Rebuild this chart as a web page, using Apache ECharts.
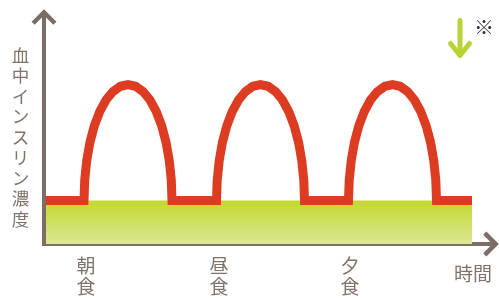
<!DOCTYPE html>
<html><head><meta charset="utf-8">
<script src="https://cdn.jsdelivr.net/npm/echarts@6/dist/echarts.min.js"></script>
<style>html,body{margin:0;padding:0;background:#fff}#c{width:499px;height:298px}</style>
</head><body><div id="c"></div>
<script>
// ---- data ----
const mealNames = ['朝食', '昼食', '夕食'];
const mealTimes = [42, 175, 306];
const timeName = '時間';
const yName = '血中インスリン濃度';
const baseLevel = 43.5;
const curveStart = 2;
const curveEnd = 428;
const arch1X = [40.0, 40.7, 42.7, 45.9, 50.3, 55.7, 62.0, 69.0, 76.4, 84.0, 91.6, 99.0, 106.0, 112.3, 117.7, 122.1, 125.3, 127.3, 128.0];
const arch2X = [172.5, 173.2, 175.2, 178.4, 182.8, 188.2, 194.5, 201.5, 208.9, 216.5, 224.1, 231.5, 238.5, 244.8, 250.2, 254.6, 257.8, 259.8, 260.5];
const arch3X = [304.5, 305.2, 307.2, 310.4, 314.8, 320.2, 326.5, 333.5, 340.9, 348.5, 356.1, 363.5, 370.5, 376.8, 382.2, 386.6, 389.8, 391.8, 392.5];
const archY = [43.5, 63.6, 83.2, 101.5, 118.1, 132.4, 144.0, 152.5, 157.7, 159.5, 157.7, 152.5, 144.0, 132.4, 118.1, 101.5, 83.2, 63.6, 43.5];

// ---- build ----
const pts = xs => xs.map((x, i) => [x, archY[i]]);
const insulin = [[curveStart, baseLevel]].concat(pts(arch1X), pts(arch2X), pts(arch3X), [[curveEnd, baseLevel]]);
const baseline = [[curveStart, baseLevel], [curveEnd, baseLevel]];

const axisColor = '#7b6e66';
const textColor = '#7f736b';
const font = '"Noto Sans CJK JP", "Noto Sans CJK SC", sans-serif';
const chevron = 'path://M11,0 L22,11 L19.17,13.83 L11,5.66 L2.83,13.83 L0,11 Z';

const chart = echarts.init(document.getElementById('c'), null, {renderer: 'canvas'});
chart.setOption({
  animation: false,
  grid: {left: 44, right: 8, top: 17, bottom: 54, containLabel: false, outerBoundsMode: 'none'},
  xAxis: {
    type: 'value', min: 0, max: 447,
    name: timeName, nameLocation: 'end', nameGap: -37,
    nameTextStyle: {color: textColor, fontSize: 19, lineHeight: 21, fontFamily: font, verticalAlign: 'top', align: 'left', padding: [19, 0, 0, 0]},
    axisLine: {show: true, symbol: ['none', chevron], symbolSize: [25, 15.7],
      lineStyle: {color: axisColor, width: 4, cap: 'square'}},
    axisTick: {show: false}, splitLine: {show: false},
    axisLabel: {
      customValues: mealTimes,
      formatter: v => { const i = mealTimes.indexOf(v); return i >= 0 ? mealNames[i].split('').join('\n') : ''; },
      color: textColor, fontSize: 19, lineHeight: 21, margin: 11, fontFamily: font
    }
  },
  yAxis: {
    type: 'value', min: 0, max: 227,
    name: '{sp|\u3000}\n' + yName.split('').join('\n'), nameLocation: 'middle', nameRotate: 0, nameGap: 23.5,
    nameTextStyle: {color: textColor, fontSize: 17.5, lineHeight: 20.5, fontFamily: font, align: 'center',
      rich: {sp: {fontSize: 1, lineHeight: 13}}},
    axisLine: {show: true, symbol: ['none', chevron], symbolSize: [25, 15.7],
      lineStyle: {color: axisColor, width: 4, cap: 'square'}},
    axisTick: {show: false}, splitLine: {show: false}, axisLabel: {show: false}
  },
  series: [
    {
      type: 'line', data: baseline, symbol: 'none', silent: true, z: 2,
      lineStyle: {width: 0, opacity: 0},
      areaStyle: {opacity: 1, color: new echarts.graphic.LinearGradient(0, 0, 0, 1, [
        {offset: 0, color: '#c3d82f'}, {offset: 1, color: '#dbe893'}])}
    },
    {
      type: 'line', data: insulin, symbol: 'none', silent: true, z: 3,
      lineStyle: {color: '#dc3c22', width: 9, join: 'miter', cap: 'butt'}
    }
  ],
  graphic: [
    {type: 'line', shape: {x1: 460, y1: 20.5, x2: 460, y2: 55}, style: {stroke: '#b8d335', lineWidth: 5, lineCap: 'round'}},
    {type: 'polyline', shape: {points: [[450.5, 43.5], [460, 55.5], [469.5, 43.5]]}, style: {stroke: '#b8d335', fill: null, lineWidth: 5, lineCap: 'round', lineJoin: 'round'}},
    {type: 'text', x: 484, y: 27, style: {text: '※', font: 'bold 20px ' + font, fill: '#333333', align: 'center', verticalAlign: 'middle'}}
  ]
});
</script></body></html>
